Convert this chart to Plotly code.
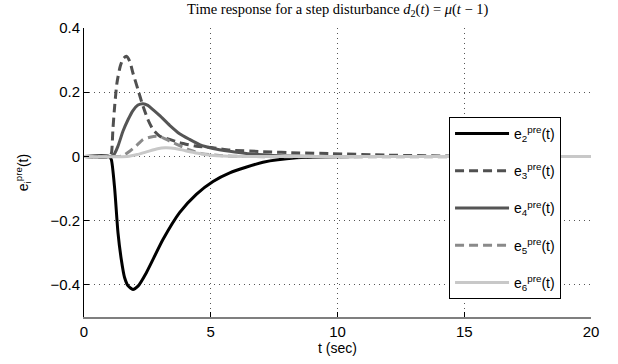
import plotly.graph_objects as go

# ---- data ----
t2 = [0, 1.0, 1.08, 1.21, 1.34, 1.47, 1.6, 1.74, 1.93, 2.13, 2.46, 3.12, 3.77, 4.43, 5.09, 5.75, 7.06, 8.38, 10, 12, 20]
e2 = [0, 0, -0.01, -0.10, -0.237, -0.32, -0.377, -0.403, -0.414, -0.404, -0.362, -0.258, -0.175, -0.118, -0.078, -0.051, -0.018, -0.004, -0.001, 0, 0]

t3 = [0, 1.0, 1.08, 1.14, 1.21, 1.3, 1.43, 1.55, 1.67, 1.8, 1.93, 2.13, 2.33, 2.52, 2.72, 2.99, 3.38, 3.77, 4.43, 5.09, 5.75, 7.06, 8.5, 9.7, 12, 15, 20]
e3 = [0, 0, 0.01, 0.084, 0.157, 0.229, 0.281, 0.305, 0.312, 0.297, 0.26, 0.208, 0.156, 0.115, 0.084, 0.063, 0.053, 0.043, 0.032, 0.027, 0.02, 0.015, 0.011, 0.009, 0.004, 0.001, 0]

t4 = [0, 1.1, 1.2, 1.34, 1.54, 1.74, 1.93, 2.13, 2.33, 2.52, 2.72, 2.99, 3.38, 3.77, 4.17, 4.56, 5.09, 5.75, 6.4, 7.06, 7.7, 9, 20]
e4 = [0, 0, 0.008, 0.032, 0.079, 0.115, 0.143, 0.16, 0.164, 0.159, 0.146, 0.127, 0.097, 0.071, 0.053, 0.037, 0.025, 0.016, 0.009, 0.005, 0.002, 0, 0]

t5 = [0, 1.4, 1.54, 1.8, 2.07, 2.33, 2.6, 2.86, 3.12, 3.38, 3.77, 4.17, 4.7, 5.35, 6.2, 20]
e5 = [0, 0, 0.002, 0.016, 0.034, 0.053, 0.06, 0.063, 0.058, 0.048, 0.034, 0.02, 0.008, 0.003, 0, 0]

t6 = [0, 1.7, 2.1, 2.5, 2.9, 3.2, 3.6, 4.0, 4.5, 5.0, 5.5, 6.5, 20]
e6 = [0, 0, 0.006, 0.015, 0.024, 0.027, 0.025, 0.018, 0.01, 0.004, 0.001, 0, 0]

x_ticks = [0, 5, 10, 15, 20]
y_ticks = [-0.4, -0.2, 0, 0.2, 0.4]
y_tick_labels = ["\u22120.4", "\u22120.2", "0", "0.2", "0.4"]

names = ["e<sub>2</sub><sup>pre</sup>(t)", "e<sub>3</sub><sup>pre</sup>(t)", "e<sub>4</sub><sup>pre</sup>(t)",
         "e<sub>5</sub><sup>pre</sup>(t)", "e<sub>6</sub><sup>pre</sup>(t)"]

series = [(t2, e2), (t3, e3), (t4, e4), (t5, e5), (t6, e6)]
styles = [("#000000", "solid"), ("#505050", "9px,5px"), ("#555555", "solid"),
          ("#8a8a8a", "9px,5px"), ("#c8c8c8", "solid")]

fig = go.Figure()
for i, ((tx, ey), (col, dash)) in enumerate(zip(series, styles)):
    fig.add_trace(go.Scatter(
        x=tx, y=ey, mode="lines", name=names[i], legendgroup=f"g{i}",
        line=dict(color=col, width=3, dash=dash, shape="spline", smoothing=0.6),
    ))

fig.update_layout(
    width=618, height=364,
    margin=dict(l=84, r=27, t=28, b=47),
    paper_bgcolor="white", plot_bgcolor="white",
    font=dict(family="Liberation Sans, Arial, sans-serif", size=15, color="black"),
    title=dict(
        text="Time response for a step disturbance <i>d</i><sub>2</sub>(<i>t</i>) = <i>μ</i>(<i>t</i> − 1)",
        font=dict(family="Liberation Serif, DejaVu Serif, serif", size=14.5),
        x=0.5465, xanchor="center", y=0.975, yanchor="middle",
    ),
    showlegend=True,
    legend=dict(
        x=0.72, y=0.692, xanchor="left", yanchor="top",
        bgcolor="white", bordercolor="black", borderwidth=1,
        font=dict(size=14), tracegroupgap=16, itemwidth=54,
    ),
)
fig.update_xaxes(
    range=[0, 20], tickvals=x_ticks, ticks="inside", ticklen=5, tickcolor="black",
    tickfont=dict(size=15),
    showline=True, linecolor="#7f7f7f", linewidth=2, zeroline=False,
    showgrid=True, gridcolor="#555555", griddash="1px,4px", gridwidth=1,
    title=dict(text="t (sec)", standoff=4, font=dict(size=14)), automargin=False,
)
fig.update_yaxes(
    range=[-0.5, 0.4], tickvals=y_ticks, ticktext=y_tick_labels, ticks="inside", ticklen=5,
    tickcolor="black", tickfont=dict(size=15),
    showline=True, linecolor="black", linewidth=1, zeroline=False,
    showgrid=True, gridcolor="#555555", griddash="1px,4px", gridwidth=1,
    title=dict(text="e<sub>i</sub><sup>pre</sup>(t)", standoff=18, font=dict(size=14)), automargin=False,
)

fig.write_html("out.html", config={"displayModeBar": False},
               post_script="document.body.style.margin='0px';")
